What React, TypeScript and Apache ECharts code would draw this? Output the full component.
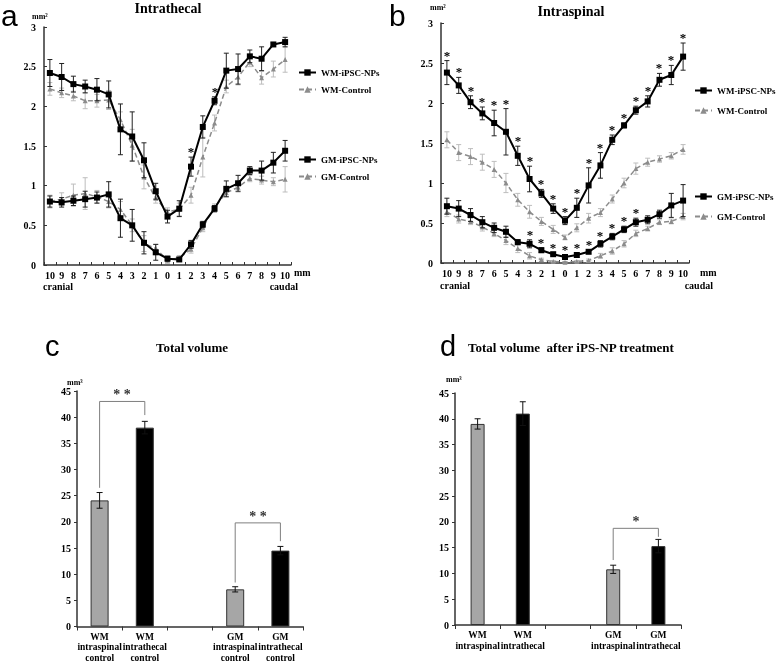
import React, { useEffect, useRef } from "react";
import * as echarts from "echarts";

// ---------- data ----------
const xTicks = ["10","9","8","7","6","5","4","3","2","1","0","1","2","3","4","5","6","7","8","9","10"];

// panel a: Intrathecal
const thecalWmIpsc = [2.42,2.37,2.28,2.25,2.21,2.15,1.71,1.62,1.32,0.93,0.61,0.71,1.24,1.74,2.07,2.45,2.47,2.63,2.60,2.78,2.81];
const thecalWmIpscErr = [0.17,0.17,0.10,0.08,0.14,0.17,0.32,0.31,0.22,0.10,0.08,0.10,0.12,0.14,0.05,0.22,0.19,0.08,0.15,0.02,0.06];
const thecalWmCtrl = [2.22,2.17,2.13,2.07,2.07,2.08,1.83,1.51,1.11,0.84,0.67,0.70,0.88,1.36,1.79,2.25,2.37,2.56,2.36,2.47,2.59];
const thecalWmCtrlErr = [0.08,0.06,0.06,0.10,0.08,0.12,0.10,0.20,0.15,0.06,0.05,0.08,0.10,0.25,0.10,0.08,0.10,0.06,0.08,0.10,0.16];
const thecalGmIpsc = [0.80,0.79,0.81,0.83,0.85,0.89,0.59,0.50,0.28,0.16,0.08,0.07,0.26,0.51,0.71,0.96,1.03,1.19,1.19,1.29,1.44];
const thecalGmIpscErr = [0.07,0.06,0.06,0.10,0.07,0.16,0.24,0.20,0.14,0.10,0.03,0.02,0.05,0.04,0.04,0.10,0.10,0.05,0.12,0.13,0.13];
const thecalGmCtrl = [0.80,0.83,0.88,0.90,0.86,0.80,0.70,0.50,0.27,0.21,0.06,0.09,0.20,0.47,0.73,0.91,0.98,1.09,1.07,1.05,1.08];
const thecalGmCtrlErr = [0.08,0.08,0.14,0.20,0.08,0.08,0.10,0.08,0.10,0.05,0.04,0.03,0.05,0.05,0.04,0.05,0.06,0.04,0.05,0.05,0.16];
const thecalWmStars = [12, 14];
const thecalGmStars: number[] = [];

// panel b: Intraspinal
const spinalWmIpsc = [2.38,2.22,2.01,1.87,1.75,1.64,1.34,1.05,0.87,0.68,0.53,0.69,0.97,1.22,1.54,1.72,1.91,2.02,2.29,2.35,2.58];
const spinalWmIpscErr = [0.15,0.10,0.08,0.08,0.16,0.29,0.12,0.16,0.05,0.06,0.05,0.12,0.22,0.16,0.06,0.03,0.05,0.07,0.08,0.12,0.17];
const spinalWmCtrl = [1.54,1.38,1.33,1.26,1.17,1.00,0.79,0.64,0.52,0.42,0.32,0.44,0.56,0.63,0.80,1.00,1.18,1.26,1.30,1.34,1.42];
const spinalWmCtrlErr = [0.10,0.10,0.10,0.10,0.10,0.12,0.08,0.08,0.05,0.05,0.03,0.05,0.06,0.05,0.05,0.06,0.07,0.05,0.04,0.04,0.06];
const spinalGmIpsc = [0.71,0.68,0.60,0.51,0.44,0.39,0.26,0.24,0.16,0.11,0.075,0.10,0.14,0.24,0.33,0.42,0.51,0.54,0.61,0.72,0.78];
const spinalGmIpscErr = [0.10,0.10,0.08,0.07,0.06,0.07,0.03,0.05,0.03,0.02,0.02,0.03,0.02,0.04,0.04,0.04,0.05,0.05,0.05,0.15,0.20];
const spinalGmCtrl = [0.64,0.55,0.52,0.45,0.37,0.28,0.18,0.09,0.04,0.02,0.01,0.02,0.03,0.09,0.15,0.24,0.37,0.43,0.51,0.52,0.58];
const spinalGmCtrlErr = [0.06,0.05,0.04,0.05,0.04,0.05,0.05,0.04,0.02,0.01,0.01,0.01,0.02,0.03,0.04,0.04,0.04,0.03,0.03,0.03,0.04];
const spinalWmStars = [0,1,2,3,4,5,6,7,8,9,10,11,12,13,14,15,16,17,18,19,20];
const spinalGmStars = [7,8,9,10,11,12,13,14,15,16];

// panel c: Total volume
const totalCats = ["WM\nintraspinal\ncontrol","WM\nintrathecal\ncontrol","","GM\nintraspinal\ncontrol","GM\nintrathecal\ncontrol"];
const totalVals = [24.1, 38.0, null, 7.1, 14.5];
const totalErr = [1.5, 1.2, null, 0.5, 0.8];
const totalBrackets = [
  { from: 0, to: 1, top: 43.0, leftEnd: 26.5, rightEnd: 40.4, mark: "* *" },
  { from: 3, to: 4, top: 19.8, leftEnd: 8.4, rightEnd: 16.3, mark: "* *" },
];

// panel d: Total volume after iPS-NP treatment
const afterCats = ["WM\nintraspinal","WM\nintrathecal","","GM\nintraspinal","GM\nintrathecal"];
const afterVals = [39.0, 41.0, null, 10.8, 15.3];
const afterErr = [1.0, 2.3, null, 0.8, 1.3];
const afterBrackets = [
  { from: 3, to: 4, top: 18.75, leftEnd: 12.6, rightEnd: 17.1, mark: "*" },
];

// ---------- styling ----------
const SERIF = "'Liberation Serif', 'Times New Roman', serif";
const SANS = "'Liberation Sans', Arial, sans-serif";
const BLACK = "#000000";
const GREY_LINE = "#8c8c8c";
const GREY_ERR = "#bdbdbd";
const BAR_GREY = "#a6a6a6";

function errRender(color: string, cap: number) {
  return (_p: any, api: any) => {
    const i = api.value(0), v = api.value(1), e = api.value(2);
    const t = api.coord([i, v + e]);
    const b = api.coord([i, Math.max(v - e, 0)]);
    const style = { stroke: color, lineWidth: 1 };
    return {
      type: "group",
      children: [
        { type: "line", shape: { x1: t[0], y1: t[1], x2: b[0], y2: b[1] }, style },
        { type: "line", shape: { x1: t[0] - cap, y1: t[1], x2: t[0] + cap, y2: t[1] }, style },
        { type: "line", shape: { x1: b[0] - cap, y1: b[1], x2: b[0] + cap, y2: b[1] }, style },
      ],
    };
  };
}

function starRender(_p: any, api: any) {
  const p = api.coord([api.value(0), api.value(1)]);
  return {
    type: "text",
    x: Math.round(p[0]),
    y: Math.round(p[1] + 1),
    style: {
      text: "*", fontSize: 13, fontWeight: "bold", fontFamily: SERIF,
      fill: "#000", align: "center", verticalAlign: "bottom",
    },
  };
}

function bracketRender(_p: any, api: any) {
  const x1 = api.value(0), x2 = api.value(1), top = api.value(2), l = api.value(3), r = api.value(4);
  const pl = api.coord([x1, l]);
  const pr = api.coord([x2, r]);
  const pt = api.coord([x1, top]);
  const ptr = api.coord([x2, top]);
  return {
    type: "polyline",
    shape: { points: [[pl[0], pl[1]], [pt[0], pt[1]], [ptr[0], ptr[1]], [pr[0], pr[1]]] },
    style: { stroke: "#7f7f7f", lineWidth: 1, fill: null },
  };
}

function bracketLabelRender(marks: string[]) {
  return (p: any, api: any) => {
    const x1 = api.value(0), x2 = api.value(1), top = api.value(2);
    const a = api.coord([x1, top]);
    const b = api.coord([x2, top]);
    return {
      type: "text",
      x: Math.round((a[0] + b[0]) / 2),
      y: Math.round(a[1]),
      style: {
        text: marks[p.dataIndex], fontSize: 14, fontWeight: "bold", fontFamily: SERIF,
        fill: "#333", align: "center", verticalAlign: "bottom",
      },
    };
  };
}

const tickFont = { fontFamily: SERIF, fontWeight: "bold" as const, fontSize: 10, color: BLACK };

function lineXAxis(gridIndex: number) {
  return {
    type: "category",
    gridIndex,
    data: xTicks,
    boundaryGap: true,
    axisLine: { lineStyle: { color: "#333", width: 1.5 } },
    axisTick: { show: true, inside: true, length: 3, alignWithLabel: false, lineStyle: { color: "#333" } },
    axisLabel: { ...tickFont, interval: 0, margin: 5 },
    splitLine: { show: false },
  };
}
function lineYAxis(gridIndex: number) {
  return {
    type: "value",
    gridIndex,
    min: 0,
    max: 3,
    interval: 0.5,
    axisLine: { show: true, lineStyle: { color: "#333", width: 1.5 } },
    axisTick: { show: true, inside: true, length: 3, lineStyle: { color: "#333" } },
    axisLabel: { ...tickFont, margin: 8 },
    splitLine: { show: false },
  };
}
function barXAxis(gridIndex: number, cats: string[]) {
  return {
    type: "category",
    gridIndex,
    data: cats,
    axisLine: { lineStyle: { color: "#333", width: 1.5 } },
    axisTick: { show: true, length: 4, lineStyle: { color: "#333" } },
    axisLabel: { fontFamily: SERIF, fontWeight: "bold", fontSize: 9.5, color: BLACK, interval: 0, margin: 5, lineHeight: 10.5 },
    splitLine: { show: false },
  };
}
function barYAxis(gridIndex: number) {
  return {
    type: "value",
    gridIndex,
    min: 0,
    max: 45,
    interval: 5,
    axisLine: { show: true, lineStyle: { color: "#333", width: 1.5 } },
    axisTick: { show: true, length: 3, lineStyle: { color: "#333" } },
    axisLabel: { ...tickFont, margin: 6 },
    splitLine: { show: false },
  };
}

function idxData(vals: (number | null)[], errs: (number | null)[]) {
  const out: number[][] = [];
  vals.forEach((v, i) => {
    const e = errs[i];
    if (v != null && e != null) out.push([i, v, e]);
  });
  return out;
}
function starData(idx: number[], vals: number[], errs: number[]) {
  return idx.map((i) => [i, vals[i] + errs[i]]);
}

function linePanel(axis: number, wmI: number[], wmIE: number[], wmC: number[], wmCE: number[], gmI: number[], gmIE: number[], gmC: number[], gmCE: number[], wmStars: number[], gmStars: number[]) {
  const base = { xAxisIndex: axis, yAxisIndex: axis };
  const ctrlLine = (name: string, data: number[]) => ({
    ...base, type: "line", name, data, z: 3,
    symbol: "triangle", symbolSize: 5,
    lineStyle: { color: GREY_LINE, width: 1.5, type: [5, 3] },
    itemStyle: { color: GREY_LINE },
  });
  const ipscLine = (name: string, data: number[]) => ({
    ...base, type: "line", name, data, z: 5,
    symbol: "rect", symbolSize: 6,
    lineStyle: { color: BLACK, width: 2 },
    itemStyle: { color: BLACK },
  });
  const err = (data: number[][], color: string, z: number) => ({
    ...base, type: "custom", data, z, renderItem: errRender(color, 2.5), silent: true,
    itemStyle: { color },
  });
  const stars = (data: number[][]) => ({
    ...base, type: "custom", data, z: 6, renderItem: starRender, silent: true,
    itemStyle: { color: "#000" },
  });
  return [
    err(idxData(wmC, wmCE), GREY_ERR, 2),
    err(idxData(gmC, gmCE), GREY_ERR, 2),
    ctrlLine("WM-Control", wmC),
    ctrlLine("GM-Control", gmC),
    err(idxData(wmI, wmIE), "#222", 4),
    err(idxData(gmI, gmIE), "#222", 4),
    ipscLine("WM-iPSC-NPs", wmI),
    ipscLine("GM-iPSC-NPs", gmI),
    stars(starData(wmStars, wmI, wmIE)),
    stars(starData(gmStars, gmI, gmIE)),
  ];
}

function barPanel(axis: number, cats: string[], vals: (number | null)[], errs: (number | null)[], width: number, brackets: any[]) {
  const base = { xAxisIndex: axis, yAxisIndex: axis };
  return [
    {
      ...base, type: "bar", data: vals, barWidth: width, z: 2,
      itemStyle: {
        color: (p: any) => (cats[p.dataIndex].indexOf("intrathecal") >= 0 ? BLACK : BAR_GREY),
        borderColor: "#333", borderWidth: 1,
      },
    },
    { ...base, type: "custom", data: idxData(vals, errs), z: 4, renderItem: errRender("#111", 3), silent: true, itemStyle: { color: "#111" } },
    {
      ...base, type: "custom", z: 3, silent: true, itemStyle: { color: "#7f7f7f" },
      data: brackets.map((b) => [b.from, b.to, b.top, b.leftEnd, b.rightEnd]),
      renderItem: bracketRender,
    },
    {
      ...base, type: "custom", z: 3, silent: true, itemStyle: { color: "#333" },
      data: brackets.map((b) => [b.from, b.to, b.top, b.leftEnd, b.rightEnd]),
      renderItem: bracketLabelRender(brackets.map((b) => b.mark)),
    },
  ];
}

function legendBlock(left: number, top: number, gap: number, names: string[]) {
  return {
    left, top, orient: "vertical", itemGap: gap, padding: 0,
    itemWidth: 17, itemHeight: 8,
    data: names,
    textStyle: { fontFamily: SERIF, fontWeight: "bold", fontSize: 9, color: BLACK },
  };
}

function txt(x: number, y: number, text: string, size: number, opts: any = {}) {
  const style: any = {
    text, fontSize: size, fontFamily: opts.family || SERIF, fontWeight: opts.weight || "bold",
    fill: BLACK, align: opts.align || "left", verticalAlign: "middle",
  };
  if (opts.lineHeight) style.lineHeight = opts.lineHeight;
  return { type: "text", x, y, silent: true, style };
}

export default function App() {
  const ref = useRef<HTMLDivElement>(null);
  useEffect(() => {
    document.body.style.margin = "0";
    const chart = echarts.init(ref.current!, undefined, { renderer: "svg" });
    const option: any = {
      animation: false,
      backgroundColor: "#ffffff",
      grid: [
        { left: 44, top: 27, width: 247, height: 238 },
        { left: 441, top: 23, width: 248, height: 240 },
        { left: 77, top: 391, width: 226, height: 236 },
        { left: 455, top: 393, width: 226, height: 232 },
      ],
      xAxis: [lineXAxis(0), lineXAxis(1), barXAxis(2, totalCats), barXAxis(3, afterCats)],
      yAxis: [lineYAxis(0), lineYAxis(1), barYAxis(2), barYAxis(3)],
      legend: [
        legendBlock(298, 68, 8, ["WM-iPSC-NPs", "WM-Control"]),
        legendBlock(298, 155, 8, ["GM-iPSC-NPs", "GM-Control"]),
        legendBlock(694, 86, 11, ["WM-iPSC-NPs", "WM-Control"]),
        legendBlock(694, 192, 11, ["GM-iPSC-NPs", "GM-Control"]),
      ],
      series: [
        ...linePanel(0, thecalWmIpsc, thecalWmIpscErr, thecalWmCtrl, thecalWmCtrlErr, thecalGmIpsc, thecalGmIpscErr, thecalGmCtrl, thecalGmCtrlErr, thecalWmStars, thecalGmStars),
        ...linePanel(1, spinalWmIpsc, spinalWmIpscErr, spinalWmCtrl, spinalWmCtrlErr, spinalGmIpsc, spinalGmIpscErr, spinalGmCtrl, spinalGmCtrlErr, spinalWmStars, spinalGmStars),
        ...barPanel(2, totalCats, totalVals, totalErr, 18, totalBrackets),
        ...barPanel(3, afterCats, afterVals, afterErr, 14, afterBrackets),
      ],
      graphic: [
        txt(1, 15.5, "a", 30, { family: SANS, weight: "normal", lineHeight: 28 }),
        txt(389, 15.5, "b", 30, { family: SANS, weight: "normal", lineHeight: 28 }),
        txt(45, 346, "c", 29, { family: SANS, weight: "normal" }),
        txt(440, 346, "d", 29, { family: SANS, weight: "normal" }),
        txt(168, 8, "Intrathecal", 14, { align: "center" }),
        txt(571, 11, "Intraspinal", 14, { align: "center" }),
        txt(192, 347, "Total volume", 13, { align: "center" }),
        txt(468, 347, "Total volume  after iPS-NP treatment", 13),
        txt(32, 16, "mm\u00B2", 8),
        txt(430, 7, "mm\u00B2", 8),
        txt(67, 382, "mm\u00B3", 8),
        txt(446, 379, "mm\u00B3", 8),
        txt(294, 272, "mm", 10),
        txt(700, 272, "mm", 10),
        txt(43, 286, "cranial", 10),
        txt(440, 285, "cranial", 10),
        txt(298, 286, "caudal", 10, { align: "right" }),
        txt(713, 285, "caudal", 10, { align: "right" }),
      ],
    };
    chart.setOption(option);
    return () => chart.dispose();
  }, []);
  return <div ref={ref} style={{ width: 778, height: 663, willChange: "transform" }} />;
}
